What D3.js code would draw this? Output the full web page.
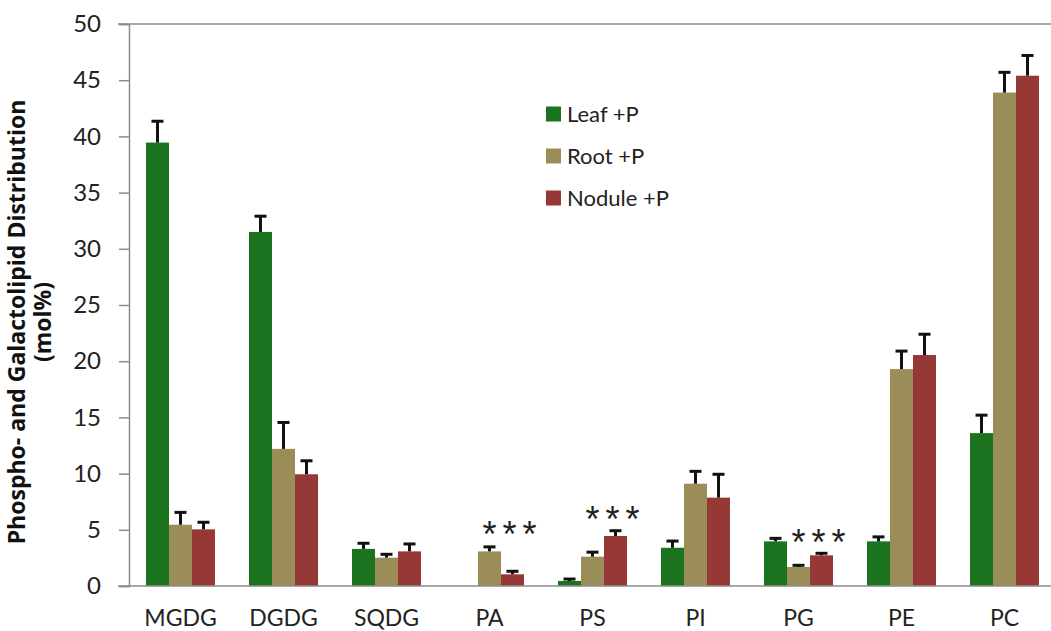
<!DOCTYPE html>
<html><head><meta charset="utf-8">
<script src="https://cdn.jsdelivr.net/npm/d3@7"></script>
<style>body{margin:0;background:#fff}svg{display:block}text{font-family:Lato,"Open Sans",sans-serif}</style>
</head><body><svg id="c" width="1051" height="631"></svg>
<script>
const categories = ["MGDG","DGDG","SQDG","PA","PS","PI","PG","PE","PC"];
const seriesNames = ["Leaf +P","Root +P","Nodule +P"];
const seriesColors = ["#1b721f","#9a8d58","#963835"];
const leafVals   = [39.45, 31.5, 3.3, 0,    0.45, 3.4, 3.97, 3.97, 13.6];
const leafErr    = [1.9,   1.4,  0.5, 0,    0.17, 0.6, 0.27, 0.4,  1.6];
const rootVals   = [5.45, 12.2,  2.52, 3.08, 2.61, 9.1, 1.69, 19.3, 43.9];
const rootErr    = [1.1,  2.35,  0.3,  0.4,  0.4,  1.1, 0.15, 1.6,  1.8];
const noduleVals = [5.04, 9.94,  3.08, 1.04, 4.45, 7.86, 2.73, 20.55, 45.4];
const noduleErr  = [0.63, 1.2,   0.66, 0.27, 0.47, 2.08, 0.18, 1.85, 1.8];
const yTicks = [0,5,10,15,20,25,30,35,40,45,50];
const starCats = ["PA","PS","PG"];
const starY = [5.0, 6.3, 4.3];

const svg = d3.select("#c");
const y = d3.scaleLinear().domain([0,50]).range([586,24]);
const x0 = d3.scaleBand().domain(categories).range([129,129+9*103]).padding(0);
const x1 = d3.scaleBand().domain(seriesNames).range([17,86]).padding(0);

const vals = [leafVals, rootVals, noduleVals];
const errs = [leafErr, rootErr, noduleErr];

svg.append("line").attr("x1",118).attr("x2",1051).attr("y1",y(50)).attr("y2",y(50)).attr("stroke","#8c8c8c").attr("stroke-width",1.5);

const yAxis = svg.append("g").attr("transform","translate(129,0)")
  .call(d3.axisLeft(y).tickValues(yTicks).tickSize(10).tickPadding(18).tickFormat(d3.format("d")));
yAxis.select(".domain").attr("stroke","#8c8c8c").attr("stroke-width",1.5);
yAxis.selectAll(".tick line").attr("stroke","#8c8c8c").attr("stroke-width",1.5);
yAxis.selectAll(".tick text").attr("font-size",24).attr("fill","#222").style("font-family","Lato,sans-serif");

categories.forEach((c,i)=>{
  const g = svg.append("g").attr("transform",`translate(${x0(c)},0)`);
  seriesNames.forEach((s,k)=>{
    const v = vals[k][i];
    if (v<=0) return;
    const bx = x1(s), bw = x1.bandwidth();
    const e = errs[k][i];
    const cx = bx + bw/2;
    g.append("rect").attr("x",bx).attr("width",bw).attr("y",y(v)).attr("height",y(0)-y(v)).attr("fill",seriesColors[k]);
    g.append("line").attr("class","eb").attr("x1",cx).attr("x2",cx).attr("y1",y(v)).attr("y2",y(v+e)).attr("stroke","#111").attr("stroke-width",3);
    g.append("line").attr("class","eb").attr("x1",cx-6).attr("x2",cx+6).attr("y1",y(v+e)).attr("y2",y(v+e)).attr("stroke","#111").attr("stroke-width",3);
  });
});
svg.selectAll(".eb").raise();

const xAxis = svg.append("g").attr("transform",`translate(0,${y(0)})`)
  .call(d3.axisBottom(x0).tickSize(0).tickPadding(24));
xAxis.select(".domain").attr("stroke","#8c8c8c").attr("stroke-width",1.5).attr("d","M118,0H1051");
xAxis.selectAll(".tick text").attr("font-size",23).attr("fill","#222").style("font-family","Lato,sans-serif");

starCats.forEach((c,i)=>{
  svg.append("text").attr("x",x0(c)+x0.bandwidth()/2+23).attr("y",y(starY[i])+17)
    .attr("text-anchor","middle").attr("font-size",36).attr("letter-spacing",6)
    .style("font-family","'Liberation Sans',sans-serif").attr("fill","#222").text("***");
});

seriesNames.forEach((s,k)=>{
  const ly = 114 + k*42;
  svg.append("rect").attr("x",546).attr("y",ly-7.5).attr("width",15).attr("height",15).attr("fill",seriesColors[k]);
  svg.append("text").attr("x",567).attr("y",ly+8).attr("font-size",22).attr("fill","#222").text(s);
});

const t = svg.append("text").attr("transform","translate(25,322) rotate(-90)").attr("text-anchor","middle")
  .attr("font-size",23).attr("font-weight","bold").attr("fill","#111").style("font-family","'Open Sans',sans-serif");
t.append("tspan").attr("x",0).attr("dy",0).text("Phospho- and Galactolipid Distribution");
t.append("tspan").attr("x",0).attr("dy",26).text("(mol%)");
</script></body></html>
